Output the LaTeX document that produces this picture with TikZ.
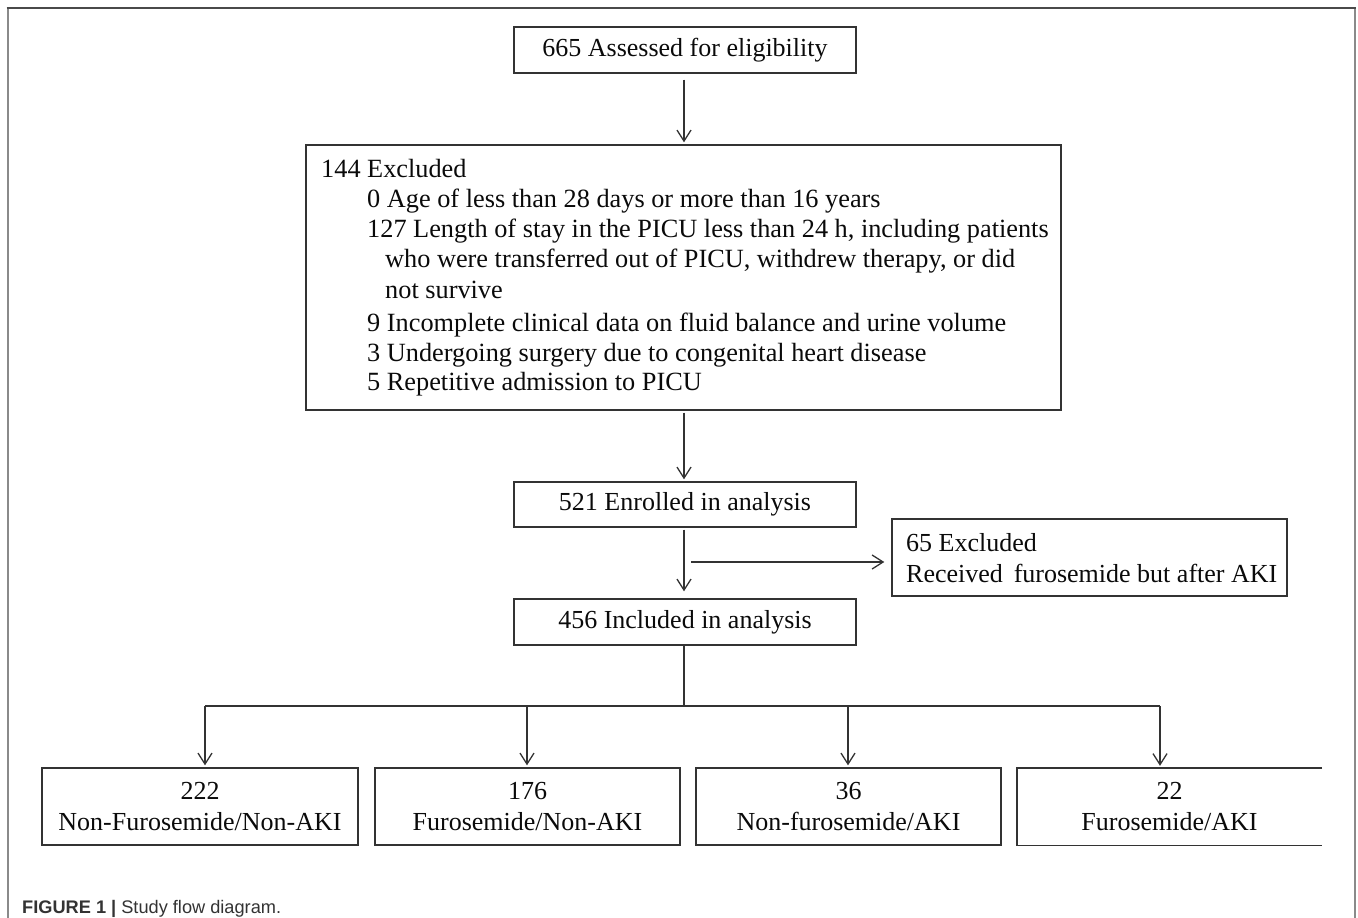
\documentclass[tikz,border=0pt]{standalone}
\usepackage{fontspec}
\setmainfont{Liberation Serif}
\newfontfamily\capfont{Liberation Sans}
\usetikzlibrary{arrows.meta,calc}
\definecolor{linec}{HTML}{333333}
\definecolor{framet}{HTML}{4A4A4A}
\definecolor{frames}{HTML}{8A8A8A}
\definecolor{textc}{HTML}{0A0A0A}
\definecolor{capc}{HTML}{333333}
\tikzset{
  box/.style={draw=linec, line width=1.4pt, inner sep=0pt, text=textc,
    font=\fontsize{26pt}{31pt}\selectfont, align=center},
  nobox/.style={inner sep=0pt, text=textc,
    font=\fontsize{26pt}{31pt}\selectfont, align=center},
  txt/.style={inner sep=0pt, anchor=base west, text=textc,
    font=\fontsize{26.3pt}{31pt}\selectfont},
  sidetxt/.style={inner sep=0pt, anchor=base west, text=textc,
    font=\fontsize{26pt}{31pt}\selectfont},
  arr/.style={draw=linec, line width=1.3pt, -{Straight Barb[length=11pt,width=14pt,line width=1.3pt]}},
  conn/.style={draw=linec, line width=1.3pt},
}
\begin{document}
\begin{tikzpicture}[x=1pt,y=-1pt]
\useasboundingbox (0,0) rectangle (1358,918);
% outer frame
\draw[frames, line width=2pt] (7.5,918) -- (7.5,8);
\draw[frames, line width=2pt] (1355,8) -- (1355,918);
\draw[framet, line width=2pt] (6.5,8) -- (1356,8);

% boxes
\node[box, minimum width=342pt, minimum height=46pt] (b1) at (685,50) {665 Assessed for eligibility};
\node[box, minimum width=755pt, minimum height=265pt] (b2) at (683.5,277.5) {};
\node[txt] (t1) at (321,177) {144 Excluded};
\node[txt] (t2) at (367,207) {0 Age of less than 28 days or more than 16 years};
\node[txt] (t3) at (367,237) {127 Length of stay in the PICU less than 24 h, including patients};
\node[txt] (t4) at (385,267) {who were transferred out of PICU, withdrew therapy, or did};
\node[txt] (t5) at (385,298) {not survive};
\node[txt] (t6) at (367,331) {9 Incomplete clinical data on fluid balance and urine volume};
\node[txt] (t7) at (367,361) {3 Undergoing surgery due to congenital heart disease};
\node[txt] (t8) at (367,390) {5 Repetitive admission to PICU};

\node[box, minimum width=342pt, minimum height=45pt] (b3) at (685,504.5) {521 Enrolled in analysis};
\node[box, minimum width=342pt, minimum height=46pt] (b4) at (685,622) {456 Included in analysis};

\node[box, minimum width=395pt, minimum height=77pt] (b5) at (1089.5,557.5) {};
\node[sidetxt] (t9) at (906,551) {65 Excluded};
\node[sidetxt] (t10) at (906,582) {Received\, furosemide but after AKI};

\node[box, minimum width=316pt, minimum height=77pt] (b6) at (200,806.5) {222\\Non-Furosemide/Non-AKI};
\node[box, minimum width=305pt, minimum height=77pt] (b7) at (527.5,806.5) {176\\Furosemide/Non-AKI};
\node[box, minimum width=305pt, minimum height=77pt] (b8) at (848.5,806.5) {36\\Non-furosemide/AKI};
\node[nobox, minimum width=305pt, minimum height=77pt] (b9) at (1169.5,806.5) {22\\Furosemide/AKI};
\draw[draw=linec, line width=1.4pt] (b9.north east) -- (b9.north west) -- (b9.south west) -- (b9.south east);

% connectors
\draw[arr] ([yshift=-6pt]b1.south -| 684,0) -- ([yshift=2pt]b2.north -| 684,0);
\draw[arr] ([yshift=-2pt]b2.south -| 684,0) -- ([yshift=2pt]b3.north -| 684,0);
\draw[arr] ([yshift=-2pt]b3.south -| 684,0) -- ([yshift=7pt]b4.north -| 684,0);
\coordinate (s0) at (691,562);
\draw[arr] (s0) -- ([xshift=-7pt]s0 -| b5.west);

\coordinate (hub) at (684,706);
\coordinate (j6) at (205,706);
\coordinate (j7) at (527,706);
\coordinate (j8) at (848,706);
\coordinate (j9) at (1160,706);
\draw[conn] (b4.south -| hub) -- (hub);
\draw[conn] (j6) -- (j9);
\draw[arr] (j6) -- ([yshift=2pt]j6 |- b6.north);
\draw[arr] (j7) -- ([yshift=2pt]j7 |- b7.north);
\draw[arr] (j8) -- ([yshift=2pt]j8 |- b8.north);
\draw[arr] (j9) -- ([yshift=2pt]j9 |- b9.north);

% caption
\node[inner sep=0pt, anchor=base west, text=capc, font=\capfont\fontsize{18.2pt}{20pt}\selectfont] (cap) at (22,913) {\textbf{FIGURE 1 |} Study flow diagram.};
\end{tikzpicture}
\end{document}
